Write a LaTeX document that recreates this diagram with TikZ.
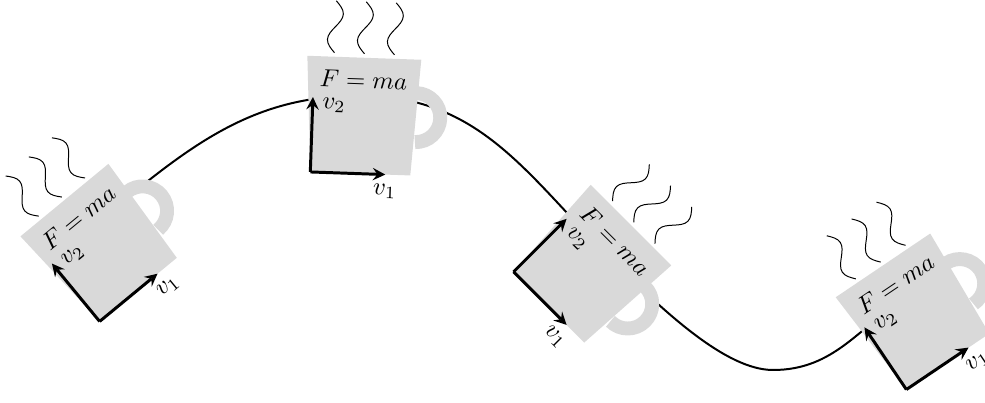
\documentclass[tikz,border=0pt]{standalone}
\usepackage{amsmath}
\usetikzlibrary{arrows}

% one cup, set down at #1 and turned by #2 degrees
\newcommand{\coffeemug}[2]{%
  \begin{scope}[shift={(#1)}, rotate=#2, shift={(-57,-78)}, transform shape]
    \fill[mug] (0,0) -- (100,0) -- (107,116) -- (-7,116) -- cycle;
    \draw[handle] (103.5,33.5) arc[start angle=-90, end angle=90, radius=24.5];
    \draw[steam, shift={(20,120)}, rotate=90] (0,0) sin (13,7.5) cos (26,0) sin (39,-7.5) cos (52,0);
    \draw[steam, shift={(50,120)}, rotate=90] (0,0) sin (13,7.5) cos (26,0) sin (39,-7.5) cos (52,0);
    \draw[steam, shift={(80,120)}, rotate=90] (0,0) sin (13,7.5) cos (26,0) sin (39,-7.5) cos (52,0);
    \node (law) at (50,94) {$F=ma$};
    \draw[frame] (0,0) -- (75,0) node[below] {$v_1$};
    \draw[frame] (0,0) -- (0,75) node[right, yshift=-3pt] {$v_2$};
  \end{scope}}

\begin{document}
\begin{tikzpicture}
  [
    x=0.403pt, y=0.403pt,
    mug/.style={fill=gray!30},
    handle/.style={draw=gray!30, line width=5.6pt},
    steam/.style={thin},
    frame/.style={very thick,->,>=stealth},
    track/.style={thick},
  ]
  \useasboundingbox (0,0) rectangle (985,403);

  \coordinate (cupA) at (94,178);
  \coordinate (cupB) at (370,307);
  \coordinate (cupC) at (609,146);
  \coordinate (trough) at (773,33);
  \coordinate (cupD) at (910,110);

  \draw [track] (cupA) to[out=39.5, in=178] (cupB)
                       to[out=-2, in=135] (cupC)
                       to[out=-45, in=180, in looseness=0.6] (trough)
                       to[out=0, in=214] (cupD);

  \coffeemug{cupA}{39.5}
  \coffeemug{cupB}{-2}
  \coffeemug{cupC}{-45}
  \coffeemug{cupD}{34}
\end{tikzpicture}
\end{document}
